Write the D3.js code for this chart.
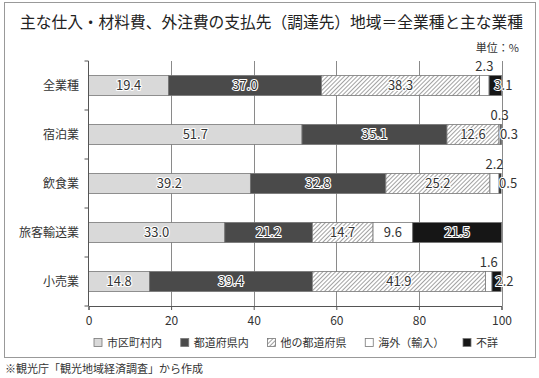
<!DOCTYPE html>
<html><head><meta charset="utf-8">
<script src="https://cdn.jsdelivr.net/npm/d3@7"></script>
<style>
html,body{margin:0;padding:0;background:#fff;}
svg{display:block;font-family:"Noto Sans CJK JP","Noto Sans",sans-serif;}
</style></head>
<body>
<script>
const categories = ["全業種","宿泊業","飲食業","旅客輸送業","小売業"];
const seriesNames = ["市区町村内","都道府県内","他の都道府県","海外（輸入）","不詳"];
const municipal = [19.4,51.7,39.2,33.0,14.8];
const prefecture = [37.0,35.1,32.8,21.2,39.4];
const otherPref = [38.3,12.6,25.2,14.7,41.9];
const overseas = [2.3,0.3,2.2,9.6,1.6];
const unknown = [3.1,0.3,0.5,21.5,2.2];
const xTicks = [0,20,40,60,80,100];
const titleText = "主な仕入・材料費、外注費の支払先（調達先）地域＝全業種と主な業種";
const unitText = "単位：%";
const noteText = "※観光庁「観光地域経済調査」から作成";

const seriesValues = [municipal, prefecture, otherPref, overseas, unknown];
const fills = ["#d9d9d9","#4a4a4a","url(#hatch)","#ffffff","#161616"];

const W=539,H=378;
const svg=d3.select("body").append("svg").attr("width",W).attr("height",H);
const defs=svg.append("defs");
const pat=defs.append("pattern").attr("id","hatch").attr("patternUnits","userSpaceOnUse")
  .attr("width",3).attr("height",3).attr("patternTransform","rotate(45)");
pat.append("rect").attr("width",3).attr("height",3).attr("fill","#fff");
pat.append("line").attr("x1",0).attr("y1",0).attr("x2",0).attr("y2",3).attr("stroke","#555").attr("stroke-width",1.1);

svg.append("rect").attr("x",4.5).attr("y",2.5).attr("width",531).attr("height",355)
  .attr("fill","none").attr("stroke","#999").attr("stroke-width",1);

svg.append("text").attr("x",20).attr("y",28).attr("font-size",16).attr("fill","#222")
  .attr("textLength",503).attr("lengthAdjust","spacingAndGlyphs").text(titleText);
svg.append("text").attr("x",519).attr("y",52).attr("font-size",11).attr("fill","#333")
  .attr("text-anchor","end").text(unitText);

const x=d3.scaleLinear().domain([0,100]).range([88.5,501.5]);
const y=d3.scaleBand().domain(categories).range([61,306]).paddingInner(0.59).paddingOuter(0.295);
const step=y.step();

// gridlines
svg.append("g").selectAll("line").data(xTicks.filter(t=>t>0)).join("line")
  .attr("x1",d=>Math.round(x(d))+0.5).attr("x2",d=>Math.round(x(d))+0.5)
  .attr("y1",61).attr("y2",306).attr("stroke","#8a8a8a").attr("stroke-width",1);

// stacked bars
const rows=categories.map((c,i)=>{let acc=0;return seriesValues.map((s,k)=>{const v=s[i];const seg={cat:c,k,v,x0:acc,x1:acc+v};acc+=v;return seg;});});
const gBars=svg.append("g");
rows.forEach(r=>{
  gBars.selectAll(null).data(r).join("rect")
    .attr("x",d=>x(d.x0)).attr("width",d=>Math.max(0,x(Math.min(100,d.x1))-x(d.x0)))
    .attr("y",d=>y(d.cat)).attr("height",y.bandwidth())
    .attr("fill",d=>fills[d.k]).attr("stroke","#777").attr("stroke-width",0.8);
});

// axes
const xAxis=d3.axisBottom(x).tickValues(xTicks).tickSize(4).tickPadding(6).tickFormat(d3.format("d"));
const gx=svg.append("g").attr("transform","translate(0,306)").call(xAxis);
gx.select(".domain").attr("stroke","#555");
gx.selectAll(".tick line").attr("stroke","#555");
gx.selectAll("text").attr("font-size",12).attr("fill","#333").attr("font-family","'Noto Sans CJK JP',sans-serif");

svg.append("line").attr("x1",88.5).attr("x2",88.5).attr("y1",61).attr("y2",306).attr("stroke","#555");
const yTickPos=categories.map(c=>y(c)-y.paddingInner()*step/2).concat([306]);
svg.append("g").selectAll("line").data(yTickPos).join("line")
  .attr("x1",84.5).attr("x2",88.5).attr("y1",d=>d).attr("y2",d=>d).attr("stroke","#555");
svg.append("g").selectAll("text").data(categories).join("text")
  .attr("x",79).attr("y",d=>y(d)+y.bandwidth()/2).attr("dy","0.35em")
  .attr("text-anchor","end").attr("font-size",12).attr("fill","#333").text(d=>d);

// value labels
const fmt=d3.format(".1f");
rows.forEach(r=>{
  r.forEach(d=>{
    const cx=(x(d.x0)+x(Math.min(100,d.x1)))/2;
    const cy=y(d.cat)+y.bandwidth()/2;
    const t=svg.append("text").attr("font-size",13).attr("fill","#333").text(fmt(d.v));
    if(d.v<5 && d.k===3){
      t.attr("x",cx).attr("y",y(d.cat)-4).attr("text-anchor","middle");
    } else if(d.v<5 && d.k===4){
      t.attr("x",cx-1).attr("y",cy).attr("dy","0.36em").attr("text-anchor","start")
       .attr("stroke","#fff").attr("stroke-width",2).attr("paint-order","stroke");
    } else {
      t.attr("x",cx).attr("y",cy).attr("dy","0.36em").attr("text-anchor","middle")
       .attr("stroke","#fff").attr("stroke-width",2.2).attr("paint-order","stroke").attr("stroke-linejoin","round");
    }
  });
});

// legend: sequential layout spanning the plot width
const lg=svg.append("g");
const legStart=94, legEnd=498, sq=8, sqGap=5, legFont=11;
const items=seriesNames.map((n,i)=>{
  const t=lg.append("text").attr("y",343).attr("dy","0.36em").attr("font-size",legFont).attr("fill","#333").text(n);
  return {n,i,t,w:t.node().getComputedTextLength()};
});
const totalW=d3.sum(items,d=>d.w+sq+sqGap);
const gap=(legEnd-legStart-totalW)/(items.length-1);
let cur=legStart;
items.forEach(d=>{
  lg.append("rect").attr("x",cur).attr("y",338.5).attr("width",sq).attr("height",sq)
    .attr("fill",fills[d.i]).attr("stroke","#777").attr("stroke-width",0.8);
  d.t.attr("x",cur+sq+sqGap);
  cur+=sq+sqGap+d.w+gap;
});

svg.append("text").attr("x",5).attr("y",373).attr("font-size",11).attr("fill","#333").text(noteText);
</script>
</body></html>
